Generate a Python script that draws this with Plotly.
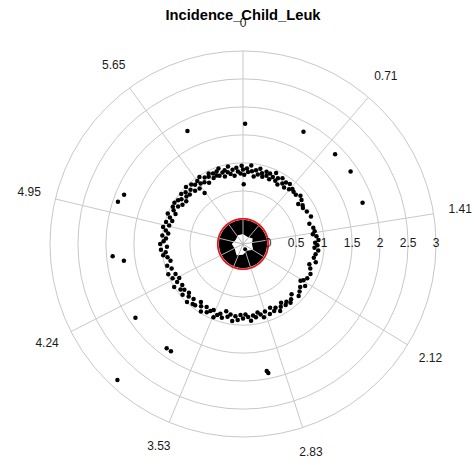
import numpy as np
import plotly.graph_objects as go

# Angular label positions (radians) and their printed labels
label_pos = [0.0, 0.7069, 1.4137, 2.1206, 2.8274, 3.5343, 4.2412, 4.9480, 5.6549]
angle_labels = ["0", "0.71", "1.41", "2.12", "2.83", "3.53", "4.24", "4.95", "5.65"]

# Radial ticks
radial_ticks = [0, 0.5, 1, 1.5, 2, 2.5, 3]
radial_labels = ["0", "0.5", "1", "1.5", "2", "2.5", "3"]

# Main ring of observations (theta in degrees, clockwise from top)
ring_theta = [
    340, 341, 342, 344, 345, 346, 348, 349, 350, 352, 353, 355, 356, 358, 359,
    0, 1, 3, 4, 6, 7, 9, 10, 12, 13, 15, 16, 18, 19,
    21, 22, 24, 25, 27, 28, 30, 31, 33, 35, 36, 38, 40, 42, 44,
    47, 50, 53, 54, 57, 59, 63, 68, 73, 77,
    80, 82, 84, 87, 89, 91, 93, 95, 98,
    101, 104, 107, 110, 114, 118, 121, 124, 127, 130, 133, 136, 139,
    141, 143, 145, 147, 149, 151, 153, 155, 157, 159, 162, 164, 166, 168, 170,
    172, 174, 176, 178,
    180, 182, 184, 186, 188, 190, 192, 194, 196, 198, 200, 202, 204, 206, 208,
    210, 212, 214, 216, 218,
    220, 222, 224, 226, 228, 230, 232, 234, 236, 238, 240, 242, 244, 246, 248,
    251, 254, 257,
    260, 262, 264, 266, 268, 270, 272, 274, 276, 278, 280, 282, 284, 286, 288,
    290, 292, 294, 296, 298,
    300, 301, 303, 304, 306, 307, 309, 310, 312, 313, 315, 316, 318, 319, 321,
    322, 324, 325, 327, 328, 330, 331, 333, 334, 336, 337, 339,
]
ring_r = [
    0.93, 0.84, 0.97, 0.88, 0.80, 0.91, 0.86, 0.96, 0.82, 0.89, 0.78, 0.92, 0.85, 0.81, 0.95,
    0.88, 0.79, 0.90, 0.84, 0.96, 0.86, 0.77, 0.89, 0.82, 0.93, 0.86, 0.80, 0.91, 0.84,
    0.90, 0.80, 0.86, 0.95, 0.82, 0.88, 0.78, 0.92, 0.84, 0.89, 0.80, 0.91, 0.83, 0.87, 0.85,
    0.84, 0.89, 0.86, 0.77, 0.82, 0.80, 0.83, 0.86, 0.79, 0.84,
    0.85, 0.81, 0.87, 0.90, 0.84, 0.88, 0.83, 0.90, 0.86,
    0.84, 0.89, 0.79, 0.83, 0.87, 0.85, 0.81, 0.89, 0.83, 0.87, 0.91, 0.80, 0.86,
    0.90, 0.84, 0.88, 0.80, 0.86, 0.92, 0.83, 0.87, 0.79, 0.89, 0.82, 0.91, 0.85, 0.80, 0.88,
    0.84, 0.93, 0.86, 0.81,
    0.88, 0.82, 0.91, 0.85, 0.94, 0.83, 0.88, 0.79, 0.92, 0.86, 0.90, 0.96, 0.84, 0.88, 0.93,
    0.85, 0.97, 0.89, 0.83, 0.94,
    0.95, 0.87, 0.99, 0.90, 0.85, 0.96, 0.88, 0.93, 0.86, 1.00, 0.91, 0.84, 0.95, 0.87, 0.99,
    0.90, 0.96, 0.88,
    0.92, 0.99, 0.94, 1.02, 0.91, 1.03, 0.97, 0.93, 1.00, 0.90, 0.95, 1.01, 0.91, 0.98, 0.88,
    0.94, 1.00, 0.87, 0.93, 0.97,
    0.89, 0.98, 0.84, 0.95, 0.91, 0.82, 0.97, 0.87, 0.93, 0.85, 0.99, 0.90, 0.83, 0.96, 0.91,
    0.81, 0.94, 0.87, 0.98, 0.85, 0.92, 0.80, 0.90, 0.95, 0.84, 0.92, 0.86,
]

# A few observations inside the ring
inner_theta = [0.7, 323, 122.5]
inner_r = [0.62, 0.69, 0.77]

# Observations far from the ring
outer_theta = [1, 333.8, 28.3, 45.7, 56, 71, 292.5, 288.7, 264.6, 262,
               235.6, 216.2, 213.9, 222.7, 169.4, 168.9]
outer_r = [1.70, 1.80, 1.83, 1.85, 1.87, 1.81, 1.85, 1.91, 1.89, 1.70,
           1.88, 1.86, 1.86, 2.86, 1.86, 1.90]

# Dense central cluster: solid core, with an open centre
core_theta = [0, 30, 60, 90, 120, 150, 180, 210, 240, 270, 300, 330, 360]
core_r = [-0.27, -0.30, -0.25, -0.29, -0.24, -0.31, -0.26, -0.22, -0.28, -0.25, -0.30, -0.27, -0.27]
centre_theta = [158]
centre_r = [-0.35]

R_MIN, R_OUTER, R_VIEW = -0.45, 3.0, 3.5
LABEL_R = 3.48
GRID = "#c8c8c8"
FONT = "Liberation Sans, Arial, sans-serif"

angle_ticks = list(np.degrees(label_pos))
circle_theta = np.linspace(0, 360, 181)

fig = go.Figure()

# spokes of the grid, from the centre to the outer circle
grid_r, grid_t = [], []
for a in angle_ticks:
    grid_r += [R_MIN, R_OUTER, None]
    grid_t += [a, a, None]
fig.add_trace(go.Scatterpolar(
    r=grid_r, theta=grid_t, mode="lines",
    line=dict(color=GRID, width=1), hoverinfo="skip"))

# black filled disk of the central cluster
fig.add_trace(go.Scatterpolar(
    r=np.full(circle_theta.shape, -0.02), theta=circle_theta, mode="lines",
    fill="toself", fillcolor="black", line=dict(color="black", width=0),
    hoverinfo="skip"))

# open centre of the cluster
fig.add_trace(go.Scatterpolar(
    r=core_r, theta=core_theta, mode="lines", fill="toself",
    fillcolor="white", line=dict(color="white", width=0), hoverinfo="skip"))

# spokes visible through the cluster
spoke_r, spoke_t = [], []
for a in angle_ticks:
    spoke_r += [R_MIN, -0.02, None]
    spoke_t += [a, a, None]
fig.add_trace(go.Scatterpolar(
    r=spoke_r, theta=spoke_t, mode="lines",
    line=dict(color="#b4b4b4", width=1), hoverinfo="skip"))

fig.add_trace(go.Scatterpolar(
    r=centre_r, theta=centre_theta, mode="markers",
    marker=dict(color="black", size=4)))

# red reference circle at r = 0
fig.add_trace(go.Scatterpolar(
    r=np.zeros(circle_theta.shape), theta=circle_theta, mode="lines",
    line=dict(color="#e8161c", width=1.8), hoverinfo="skip"))

# radial tick labels along the 3 o'clock direction
fig.add_trace(go.Scatterpolar(
    r=radial_ticks, theta=[90] * len(radial_ticks), mode="text",
    text=radial_labels, textposition="middle center",
    textfont=dict(family=FONT, size=12, color="#1a1a1a"), hoverinfo="skip"))

# angular labels, centred on a ring just outside the plot circle
fig.add_trace(go.Scatterpolar(
    r=[LABEL_R] * len(angle_labels), theta=angle_ticks, mode="text",
    text=angle_labels, textposition="middle center", cliponaxis=False,
    textfont=dict(family=FONT, size=12, color="#1a1a1a"), hoverinfo="skip"))

# observations
fig.add_trace(go.Scatterpolar(
    r=ring_r + inner_r + outer_r, theta=ring_theta + inner_theta + outer_theta,
    mode="markers", marker=dict(color="black", size=4.5)))

fig.update_layout(
    width=474, height=465,
    margin=dict(l=22, r=10, t=23, b=0, pad=0),
    paper_bgcolor="white",
    showlegend=False,
    title=dict(text="<b>Incidence_Child_Leuk</b>", x=243 / 474, xref="container",
               xanchor="center", y=1 - 15 / 465, yref="container",
               yanchor="middle",
               font=dict(family=FONT, size=14.7, color="black")),
    polar=dict(
        domain=dict(x=[0, 1], y=[0, 1]),
        bgcolor="rgba(0,0,0,0)",
        angularaxis=dict(
            direction="clockwise", rotation=90,
            tickmode="array", tickvals=angle_ticks, ticktext=angle_labels,
            showticklabels=False, ticks="", showline=False, showgrid=False,
        ),
        radialaxis=dict(
            range=[R_MIN, R_VIEW], tickmode="array", tickvals=radial_ticks,
            showticklabels=False, ticks="", showline=False,
            showgrid=True, gridcolor=GRID, gridwidth=1, angle=0,
        ),
    ),
)

fig.write_html("out.html")
